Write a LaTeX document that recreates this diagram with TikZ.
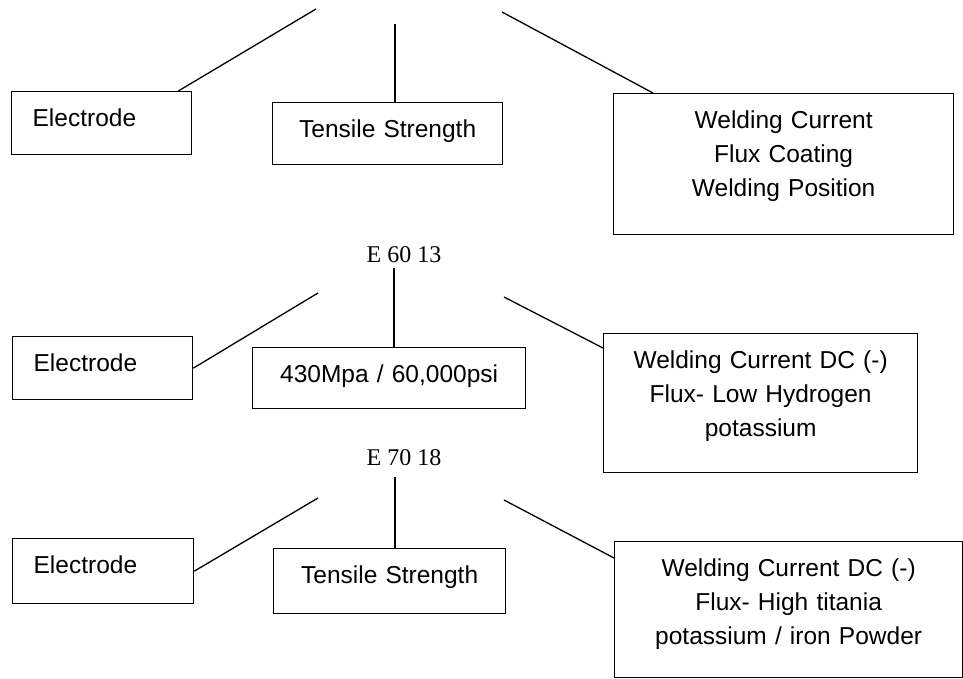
\documentclass[tikz,border=0pt]{standalone}
\usepackage{fontspec}
\setmainfont{Liberation Sans}
\newfontfamily\codefont{Liberation Serif}

\begin{document}
\begin{tikzpicture}[
  x=1pt, y=-1pt,
  font=\fontsize{24.5}{34}\selectfont,
  cell/.style={draw, line width=1.3pt, anchor=north west, inner ysep=0pt,
               inner xsep=5pt, text height=35pt, align=center},
  namecell/.style={cell, inner xsep=21pt, align=left},
  code/.style={font=\codefont\fontsize{24}{28}\selectfont},
  link/.style={line width=1.3pt},
]
  \useasboundingbox (0,0) rectangle (963,679);

  % top row (its code is cut off)
  \node[namecell, text width=138pt, text depth=28pt] (el1) at (11,91)
    {Electrode};
  \node[cell, text width=220pt, text depth=27pt] (ts1) at (272,102)
    {Tensile Strength};
  \node[cell, text width=330pt, text depth=106pt] (wc1) at (613,93)
    {Welding Current\\Flux Coating\\Welding Position};

  \coordinate (t1l) at (316,9);
  \coordinate (t1m) at (395,24);
  \coordinate (t1r) at (502,12);
  \draw[link] (t1l) -- ([xshift=-14pt]el1.north east);
  \draw[link] (t1m) -- (t1m |- ts1.north);
  \draw[link] (t1r) -- ([xshift=40pt]wc1.north west);

  % E 60 13
  \node[code] (e6013) at (404,255) {E 60 13};
  \node[namecell, text width=138pt, text depth=28pt] (el2) at (12,336)
    {Electrode};
  \node[cell, text width=263pt, text depth=26pt] (mp2) at (252,347)
    {430Mpa / 60,000psi};
  \node[cell, text width=304pt, text depth=104pt] (wc2) at (603,333)
    {Welding Current DC (-)\\Flux- Low Hydrogen\\potassium};

  \coordinate (t2l) at (318,293);
  \coordinate (t2m) at (394,268);
  \coordinate (t2r) at (504,297);
  \draw[link] (t2l) -- (el2.east);
  \draw[link] (t2m) -- (t2m |- mp2.north);
  \draw[link] (t2r) -- ([yshift=-15pt]wc2.north west);

  % E 70 18
  \node[code] (e7018) at (404,458) {E 70 18};
  \node[namecell, text width=139pt, text depth=30pt] (el3) at (12,538)
    {Electrode};
  \node[cell, text width=222pt, text depth=30pt] (ts3) at (273,548)
    {Tensile Strength};
  \node[cell, text width=338pt, text depth=101pt] (wc3) at (614,541)
    {Welding Current DC (-)\\Flux- High titania\\potassium / iron Powder};

  \coordinate (t3l) at (318,498);
  \coordinate (t3m) at (395,477);
  \coordinate (t3r) at (504,500);
  \draw[link] (t3l) -- (el3.east);
  \draw[link] (t3m) -- (t3m |- ts3.north);
  \draw[link] (t3r) -- ([yshift=-17pt]wc3.north west);
\end{tikzpicture}
\end{document}
